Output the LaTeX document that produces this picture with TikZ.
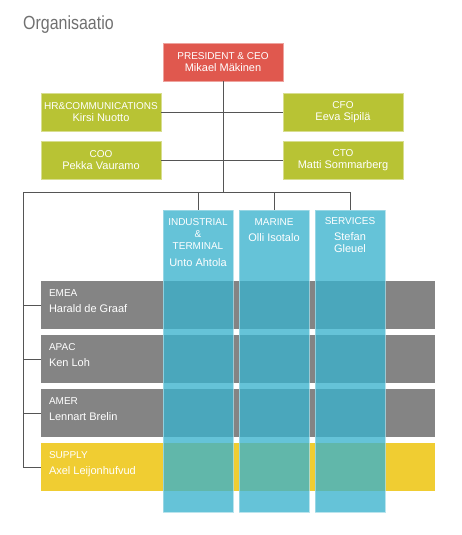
\documentclass[tikz,border=0pt]{standalone}
\usepackage{fontspec}
\setmainfont{Liberation Sans}
\usetikzlibrary{positioning, calc}
\definecolor{ceored}{RGB}{224, 88, 78}
\definecolor{mgmtgreen}{RGB}{184, 195, 52}
\definecolor{regiongray}{RGB}{132, 132, 132}
\definecolor{supplyyellow}{RGB}{240, 205, 50}
\definecolor{divblue}{RGB}{58, 178, 205}
\definecolor{linegray}{RGB}{85, 85, 85}
\definecolor{titlegray}{RGB}{112, 112, 112}
\newcommand{\rolefont}{\fontsize{10}{13}\selectfont}
\newcommand{\namefont}{\fontsize{11}{13}\selectfont}

\begin{document}
\begin{tikzpicture}[
          x=1pt, y=-1pt,
          mgmt/.style={rectangle, minimum width=120pt, minimum height=38pt, inner sep=0pt,
                       align=center, text=white, fill=mgmtgreen, draw=mgmtgreen!55!white, line width=0.6pt},
          region/.style={rectangle, minimum width=394pt, minimum height=48pt, inner sep=0pt,
                         fill=regiongray},
          regiontext/.style={inner sep=0pt, align=left, text=white},
          division/.style={rectangle, minimum width=70pt, minimum height=302pt, inner sep=0pt,
                           fill=divblue, draw=divblue!45!white, line width=0.6pt,
                           fill opacity=0.78, draw opacity=0.78},
          divtext/.style={inner sep=0pt, align=center, text=white},
          conn/.style={draw=linegray, line width=0.8pt},
        ]
        \useasboundingbox (0,0) rectangle (461,535);

        \node[anchor=base west, inner sep=0pt, text=titlegray] (title) at (23,30)
          {\scalebox{0.84}[1]{\fontsize{19}{19}\selectfont Organisaatio}};

        % management
        \node[mgmt, fill=ceored, draw=ceored!55!white] (ceo) at (223,62) {\rolefont PRESIDENT \& CEO\\\namefont Mikael Mäkinen};
        \node[mgmt] (hr)  at (101,112) {\rolefont HR\&COMMUNICATIONS\\\namefont Kirsi Nuotto};
        \node[mgmt] (cfo) at (343,112) {\rolefont CFO\\\namefont Eeva Sipilä};
        \node[mgmt] (coo) at (101,160) {\rolefont COO\\\namefont Pekka Vauramo};
        \node[mgmt] (cto) at (343,160) {\rolefont CTO\\\namefont Matti Sommarberg};

        % regions
        \node[region] (emea)   at (238,305) {};
        \node[region] (apac)   at (238,359) {};
        \node[region] (amer)   at (238,413) {};
        \node[region, fill=supplyyellow] (supply) at (238,467) {};

        \node[regiontext, below right=9pt and 8pt of emea.north west]   (emeatxt)   {\rolefont EMEA\\[4pt]\namefont Harald de Graaf};
        \node[regiontext, below right=9pt and 8pt of apac.north west]   (apactxt)   {\rolefont APAC\\[4pt]\namefont Ken Loh};
        \node[regiontext, below right=9pt and 8pt of amer.north west]   (amertxt)   {\rolefont AMER\\[4pt]\namefont Lennart Brelin};
        \node[regiontext, below right=9pt and 8pt of supply.north west] (supplytxt) {\rolefont SUPPLY\\[4pt]\namefont Axel Leijonhufvud};

        % connectors
        \coordinate (busleft) at (23,192);
        \draw[conn] (ceo.south) -- (ceo.south |- busleft);
        \draw[conn] (hr.east)  -- (cfo.west);
        \draw[conn] (coo.east) -- (cto.west);

        % divisions
        \node[division] (ind) at (198,361) {};
        \node[division] (mar) at (274,361) {};
        \node[division] (ser) at (350,361) {};

        \draw[conn] (busleft) -- (busleft -| ser.north);
        \draw[conn] (ind.north |- busleft) -- (ind.north);
        \draw[conn] (mar.north |- busleft) -- (mar.north);
        \draw[conn] (ser.north |- busleft) -- (ser.north);
        \draw[conn] (busleft) |- (supply.west);
        \draw[conn] (busleft |- emea.west) -- (emea.west);
        \draw[conn] (busleft |- apac.west) -- (apac.west);
        \draw[conn] (busleft |- amer.west) -- (amer.west);

        \node[divtext, below=9pt of ind.north] (indtxt)
          {\fontsize{10}{11}\selectfont INDUSTRIAL\\\fontsize{10}{11}\selectfont \&\\\fontsize{10}{11}\selectfont TERMINAL\\[5pt]\namefont Unto Ahtola};
        \node[divtext, below=9pt of mar.north] (martxt)
          {\rolefont MARINE\\[4pt]\namefont Olli Isotalo};
        \node[divtext, below=8pt of ser.north] (sertxt)
          {\rolefont SERVICES\\[4pt]\fontsize{11}{12}\selectfont Stefan\\\fontsize{11}{12}\selectfont Gleuel};
      \end{tikzpicture}
\end{document}
